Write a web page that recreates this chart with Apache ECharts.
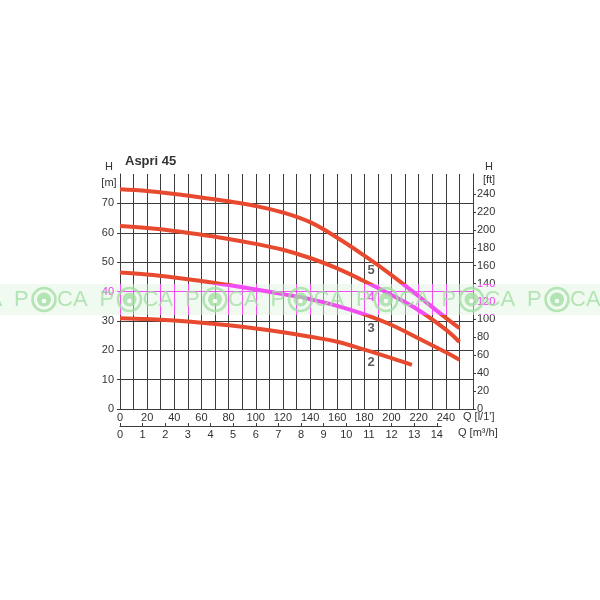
<!DOCTYPE html>
<html>
<head>
<meta charset="utf-8">
<script src="https://cdn.jsdelivr.net/npm/echarts@6/dist/echarts.min.js"></script>
<style>html,body{margin:0;padding:0;background:#fff}#c{width:600px;height:600px}</style>
</head>
<body>
<div id="c"></div>
<script>
// ---- data ----
const title = 'Aspri 45';
const flowQ = [0,20,40,60,80,100,120,140,160,180,200,220,240,250];
const head5 = [74.8,74.2,73.2,72,70.7,69.1,66.9,63.6,58.3,52.2,45.6,38.4,31,27.5];
const head4 = [62.3,61.6,60.6,59.3,57.9,56.2,54.2,51.4,47.9,43.5,38.8,33.6,27,22.8];
const head3 = [46.5,45.8,44.8,43.6,42.2,40.7,39.1,37.4,35.1,32.2,28.6,24,19.3,16.8];
const flowQ2 = [0,20,40,60,80,100,120,140,160,180,200,215];
const head2 = [30.9,30.6,30.1,29.4,28.5,27.4,26.1,24.6,22.9,20.2,17.3,15];
const curveNames = ['5','4','3','2'];
const labelQ = [185,185,185,185];
const labelH = [47.3,38,27.5,15.8];
const mTicks = [0,10,20,30,40,50,60,70];
const ftTicks = [0,20,40,60,80,100,120,140,160,180,200,220,240];
const lminLabels = [0,20,40,60,80,100,120,140,160,180,200,220,240];
const m3hLabels = [0,1,2,3,4,5,6,7,8,9,10,11,12,13,14];
const M_TO_FT = 3.28084;
const LMIN_PER_M3H = 1000/60;

// ---- layout ----
const GL = 120, GT = 174, GW = 353, GH = 235;
const QMAX = 260, HMAX = 80;
const M3H_MAX = 14.2;
const m3hWidth = M3H_MAX * LMIN_PER_M3H * GW / QMAX;

const RED = '#e84a2f';
const GRID = '#3c3c3c';
const TXT = '#333';
const FONT = '"Liberation Sans", Arial';

function pairs(xs, ys){ return xs.map((x,i)=>[x, ys[i]]); }
function lineSeries(xs, ys){
  return {type:'line', xAxisIndex:0, yAxisIndex:0, data:pairs(xs,ys), smooth:0.4,
    showSymbol:false, symbol:'none', lineStyle:{color:RED, width:4}, z:3};
}

// watermark band
const bandY = 284, bandH = 31, bandC = 299.5;
const graphics = [
  {type:'rect', z:-5, silent:true, shape:{x:0,y:bandY,width:600,height:bandH}, style:{fill:'#eefaee'}},
  {type:'rect', z:50, silent:true, shape:{x:0,y:bandY,width:600,height:bandH}, style:{fill:'#f04ef0', blend:'lighten'}},
  {type:'text', z:5, style:{text:'H', x:109, y:167, fill:TXT, font:'11px '+FONT, align:'center', verticalAlign:'middle'}},
  {type:'text', z:5, style:{text:'[m]', x:109, y:183, fill:TXT, font:'11px '+FONT, align:'center', verticalAlign:'middle'}},
  {type:'text', z:5, style:{text:'H', x:489, y:167, fill:TXT, font:'11px '+FONT, align:'center', verticalAlign:'middle'}},
  {type:'text', z:5, style:{text:'[ft]', x:489, y:180, fill:TXT, font:'11px '+FONT, align:'center', verticalAlign:'middle'}},
  {type:'text', z:5, style:{text:"Q [l/1']", x:463, y:417, fill:TXT, font:'11px '+FONT, align:'left', verticalAlign:'middle'}},
  {type:'text', z:5, style:{text:'Q [m\u00b3/h]', x:458, y:433, fill:TXT, font:'11px '+FONT, align:'left', verticalAlign:'middle'}}
];
const WM = '#9fdc9f';
for (let k = -1; k < 8; k++) {
  const cx = 44 + 85.5 * k;
  graphics.push({type:'text', z:60, silent:true, style:{text:'P', x:cx-30, y:bandC, fill:WM, opacity:0.75, font:'22px '+FONT, verticalAlign:'middle'}});
  graphics.push({type:'circle', z:60, silent:true, shape:{cx:cx, cy:bandC, r:11.5}, style:{fill:'none', stroke:WM, lineWidth:2.5, opacity:0.75}});
  graphics.push({type:'circle', z:60, silent:true, shape:{cx:cx, cy:bandC, r:7}, style:{fill:WM, opacity:0.75}});
  graphics.push({type:'circle', z:61, silent:true, shape:{cx:cx, cy:bandC+1.5, r:2.3}, style:{fill:'#ffffff', opacity:0.9}});
  graphics.push({type:'text', z:60, silent:true, style:{text:'CA', x:cx+13, y:bandC, fill:WM, opacity:0.75, font:'22px '+FONT, verticalAlign:'middle'}});
}

const chart = echarts.init(document.getElementById('c'), null, {renderer:'canvas'});
chart.setOption({
  animation:false,
  backgroundColor:'#ffffff',
  title:{text:title, left:125, top:155, padding:0,
    textStyle:{fontSize:13, fontWeight:'bold', color:TXT, fontFamily:FONT}},
  grid:[
    {left:GL, top:GT, width:GW, height:GH, containLabel:false},
    {left:GL, top:425, width:m3hWidth, height:1, containLabel:false}
  ],
  xAxis:[
    {type:'value', gridIndex:0, min:0, max:QMAX, interval:10,
      axisLine:{show:true, lineStyle:{color:GRID, width:1}},
      axisTick:{show:false},
      axisLabel:{color:TXT, fontSize:11, margin:3, fontFamily:FONT, customValues: lminLabels},
      splitLine:{show:true, lineStyle:{color:GRID, width:1}}},
    {type:'value', gridIndex:1, min:0, max:M3H_MAX, interval:1, position:'bottom',
      axisLine:{show:true, lineStyle:{color:GRID, width:1}},
      axisTick:{show:true, inside:true, length:3, lineStyle:{color:GRID}, customValues:m3hLabels},
      axisLabel:{color:TXT, fontSize:11, margin:3, fontFamily:FONT, customValues:m3hLabels},
      splitLine:{show:false}}
  ],
  yAxis:[
    {type:'value', gridIndex:0, min:0, max:HMAX, interval:5, position:'left',
      axisLine:{show:true, lineStyle:{color:GRID, width:1}},
      axisTick:{show:true, length:3, lineStyle:{color:GRID}, customValues:mTicks},
      axisLabel:{color:TXT, fontSize:11, margin:6, fontFamily:FONT, customValues:mTicks},
      splitLine:{show:true, lineStyle:{color:GRID, width:1}}},
    {type:'value', gridIndex:0, min:0, max:HMAX*M_TO_FT, interval:20, position:'right',
      axisLine:{show:true, lineStyle:{color:GRID, width:1}},
      axisTick:{show:true, length:3, lineStyle:{color:GRID}, customValues:ftTicks},
      axisLabel:{color:TXT, fontSize:11, margin:4, fontFamily:FONT, customValues:ftTicks},
      splitLine:{show:false}},
    {type:'value', gridIndex:1, show:false, min:0, max:1}
  ],
  series:[
    lineSeries(flowQ, head5),
    lineSeries(flowQ, head4),
    lineSeries(flowQ, head3),
    lineSeries(flowQ2, head2),
    {type:'scatter', xAxisIndex:0, yAxisIndex:0, symbolSize:0, z:4,
      data: curveNames.map((n,i)=>({value:[labelQ[i], labelH[i]], name:n})),
      label:{show:true, position:'inside', formatter:'{b}', color:TXT, fontSize:13, fontWeight:'bold', fontFamily:FONT}}
  ],
  graphic: graphics
});
</script>
</body>
</html>
